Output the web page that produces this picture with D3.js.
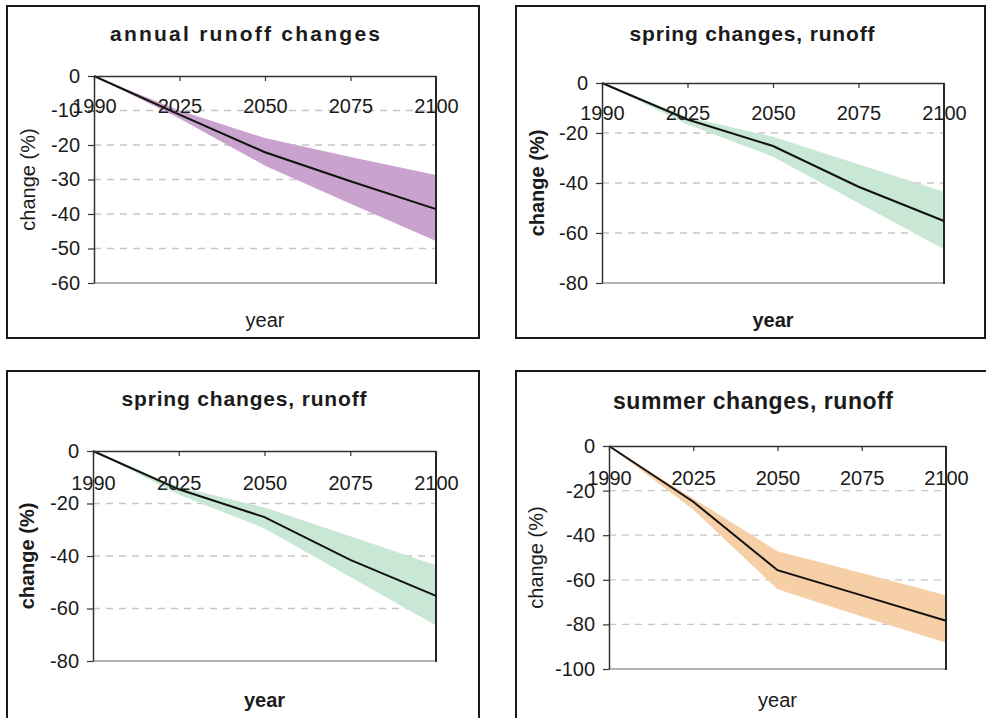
<!DOCTYPE html>
<html>
<head>
<meta charset="utf-8">
<script src="https://cdn.jsdelivr.net/npm/d3@7"></script>
<style>
  html, body { margin: 0; padding: 0; background: #fff; }
  svg { display: block; font-family: "Liberation Sans", Arial, Helvetica, sans-serif; }
</style>
</head>
<body>
<svg id="chart" width="986" height="718"></svg>
<script>
// ---- data ----
const years = ["1990", "2025", "2050", "2075", "2100"];

const annualMean  = [0, -11.2, -22.1, -30.5, -38.6];
const annualUpper = [0, -10.0, -18.0, -23.5, -28.7];
const annualLower = [0, -12.3, -26.0, -37.0, -47.8];

const springMean  = [0, -14.6, -25.2, -41.5, -55.2];
const springUpper = [0, -13.6, -21.5, -32.5, -43.5];
const springLower = [0, -16.6, -29.5, -48.0, -66.5];

const summerMean  = [0, -25.0, -55.7, -67.0, -78.4];
const summerUpper = [0, -23.5, -47.2, -57.0, -66.9];
const summerLower = [0, -28.5, -64.2, -76.5, -88.2];

const annualTicks = [0, -10, -20, -30, -40, -50, -60];
const springTicks = [0, -20, -40, -60, -80];
const summerTicks = [0, -20, -40, -60, -80, -100];

const titles = ["annual runoff changes", "spring changes, runoff", "spring changes, runoff", "summer changes, runoff"];
const yLabel = "change (%)";
const xLabel = "year";

// ---- layout / style (not data) ----
const panels = [
  { frame: [7, 6, 472, 332], plot: [94, 76, 436, 283], title: titles[0], tx: 245, ty: 41, tlen: 270, tsize: 21,
    mean: annualMean, upper: annualUpper, lower: annualLower, ticks: annualTicks, fill: "#c9a3cd",
    bold: false, ylx: 28, xly: 327, tickPad: 18 },
  { frame: [516, 6, 469, 332], plot: [602, 83, 944, 283], title: titles[1], tx: 752, ty: 41, tlen: 245, tsize: 21,
    mean: springMean, upper: springUpper, lower: springLower, ticks: springTicks, fill: "#c8e7d5",
    bold: true, ylx: 537, xly: 327, tickPad: 18 },
  { frame: [7, 371, 472, 360], plot: [93, 451, 436, 661], title: titles[2], tx: 244, ty: 406, tlen: 245, tsize: 21,
    mean: springMean, upper: springUpper, lower: springLower, ticks: springTicks, fill: "#c8e7d5",
    bold: true, ylx: 27, xly: 707, tickPad: 20 },
  { frame: [516, 371, 490, 360], plot: [609, 446, 946, 669], title: titles[3], tx: 753, ty: 409, tlen: 280, tsize: 23,
    mean: summerMean, upper: summerUpper, lower: summerLower, ticks: summerTicks, fill: "#f6cfa7",
    bold: false, ylx: 536, xly: 707, tickPad: 20 }
];

const svg = d3.select("#chart");
const textColor = "#1b1b1b";
const fontSize = 20;

panels.forEach(p => {
  const g = svg.append("g");
  const [fx, fy, fw, fh] = p.frame;
  g.append("rect").attr("x", fx).attr("y", fy).attr("width", fw).attr("height", fh)
    .attr("fill", "none").attr("stroke", "#1a1a1a").attr("stroke-width", 2);

  const [x0, y0, x1, y1] = p.plot;
  const x = d3.scalePoint().domain(years).range([x0, x1]).padding(0);
  const minV = d3.min(p.ticks);
  const y = d3.scaleLinear().domain([minV, 0]).range([y1, y0]);

  // title
  g.append("text").attr("x", p.tx).attr("y", p.ty).attr("text-anchor", "middle")
    .attr("font-size", p.tsize).attr("font-weight", "bold").attr("fill", textColor)
    .attr("textLength", p.tlen).attr("lengthAdjust", "spacing")
    .text(p.title);

  // gridlines
  g.append("g").selectAll("line").data(p.ticks.filter(t => t !== 0 && t !== minV)).join("line")
    .attr("x1", x0).attr("x2", x1).attr("y1", d => y(d)).attr("y2", d => y(d))
    .attr("stroke", "#c6c6c9").attr("stroke-width", 1.3).attr("stroke-dasharray", "7,6");

  // band
  const data = years.map((yr, i) => ({ yr, m: p.mean[i], u: p.upper[i], l: p.lower[i] }));
  g.append("path").datum(data)
    .attr("d", d3.area().x(d => x(d.yr)).y0(d => y(d.l)).y1(d => y(d.u)))
    .attr("fill", p.fill);

  // plot-area border: bottom grey, right dark
  g.append("line").attr("x1", x0).attr("x2", x1).attr("y1", y1).attr("y2", y1)
    .attr("stroke", "#9a9ca2").attr("stroke-width", 1.6);
  g.append("line").attr("x1", x1).attr("x2", x1).attr("y1", y0).attr("y2", y1 + 1)
    .attr("stroke", "#262626").attr("stroke-width", 2);

  // mean line
  g.append("path").datum(data)
    .attr("d", d3.line().x(d => x(d.yr)).y(d => y(d.m)))
    .attr("fill", "none").attr("stroke", "#111").attr("stroke-width", 2);

  // y axis
  const ya = g.append("g").attr("transform", `translate(${x0},0)`)
    .call(d3.axisLeft(y).tickValues(p.ticks).tickFormat(d => String(d)).tickSizeInner(6).tickSizeOuter(0).tickPadding(8));
  ya.select(".domain").attr("stroke", "#333").attr("stroke-width", 1.5);
  ya.selectAll(".tick line").attr("stroke", "#333").attr("stroke-width", 1.2);
  ya.selectAll("text").attr("font-size", fontSize).attr("fill", textColor)
    .attr("font-family", "'Liberation Sans', Arial, sans-serif");

  // x axis (crosses at 0, top)
  const xa = g.append("g").attr("transform", `translate(0,${y0})`)
    .call(d3.axisBottom(x).tickSizeInner(5).tickSizeOuter(0).tickPadding(p.tickPad));
  xa.select(".domain").attr("stroke", "#333").attr("stroke-width", 1.5);
  xa.selectAll(".tick line").attr("stroke", "#333").attr("stroke-width", 1.2);
  xa.selectAll("text").attr("font-size", fontSize).attr("fill", textColor)
    .attr("font-family", "'Liberation Sans', Arial, sans-serif");

  // axis titles
  g.append("text").attr("transform", `translate(${p.ylx},${(y0 + y1) / 2}) rotate(-90)`)
    .attr("text-anchor", "middle").attr("dy", "0.35em")
    .attr("font-size", fontSize).attr("font-weight", p.bold ? "bold" : "normal").attr("fill", textColor)
    .text(yLabel);
  g.append("text").attr("x", (x0 + x1) / 2).attr("y", p.xly).attr("text-anchor", "middle")
    .attr("font-size", fontSize).attr("font-weight", p.bold ? "bold" : "normal").attr("fill", textColor)
    .text(xLabel);
});
</script>
</body>
</html>
